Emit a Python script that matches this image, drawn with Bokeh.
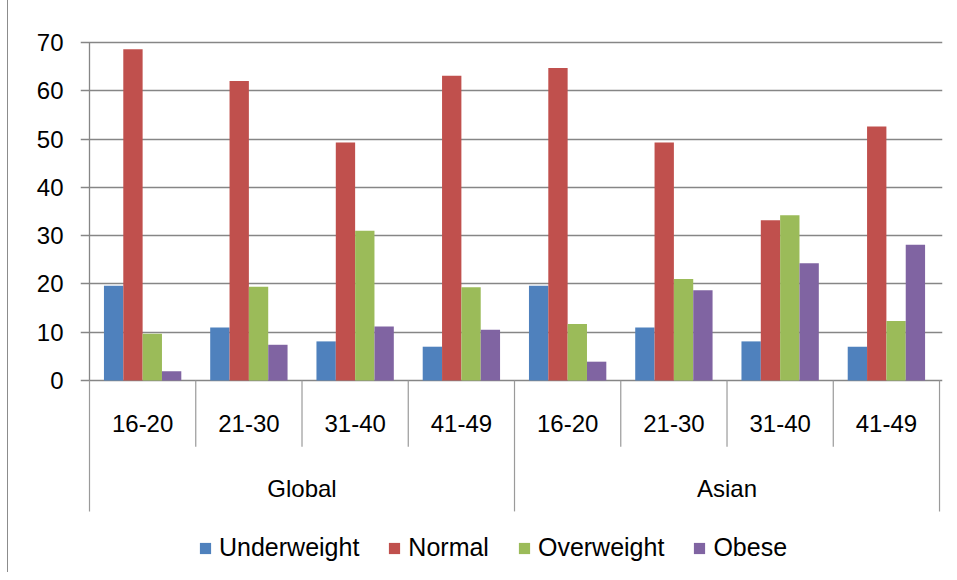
from bokeh.plotting import figure
from bokeh.models import ColumnDataSource, FixedTicker, Legend, LegendItem, Range1d
from bokeh.core.properties import value
from bokeh.embed import file_html
from bokeh.resources import INLINE

# ---- data ----
groups = ["Global", "Asian"]
ages = ["16-20", "21-30", "31-40", "41-49"]
series = ["Underweight", "Normal", "Overweight", "Obese"]
colors = ["#4F81BD", "#C0504D", "#9BBB59", "#8064A2"]
underweight = [19.6, 11.0, 8.1, 7.0, 19.6, 11.0, 8.1, 7.0]
normal = [68.6, 62.0, 49.3, 63.1, 64.7, 49.3, 33.2, 52.6]
overweight = [9.7, 19.4, 31.0, 19.3, 11.7, 21.0, 34.2, 12.3]
obese = [1.9, 7.4, 11.2, 10.5, 3.9, 18.7, 24.3, 28.1]
yticks = [0, 10, 20, 30, 40, 50, 60, 70]

values = [underweight, normal, overweight, obese]
cats = [(g, a) for g in groups for a in ages]
n = len(cats)
FONT = value("Liberation Sans")
FS = value("24px")

p = figure(width=939, height=572, output_backend="svg", toolbar_location=None,
           x_range=Range1d(-0.0847, n + 0.028), y_range=Range1d(-39.75, 70.4),
           min_border_left=72, min_border_right=5, min_border_top=40, min_border_bottom=0,
           styles={"margin-left": "7px", "border-left": "1px solid #8c8c8c"})
p.outline_line_color = None
p.xaxis.visible = False
p.xgrid.visible = False
p.ygrid.ticker = FixedTicker(ticks=yticks)
p.ygrid.grid_line_color = "#868686"
p.ygrid.grid_line_width = 1.3
p.yaxis.ticker = FixedTicker(ticks=yticks)
p.yaxis.axis_line_color = None
p.yaxis.major_tick_line_color = None
p.yaxis.minor_tick_line_color = None
p.yaxis.major_tick_out = 0
p.yaxis.major_label_standoff = 17
p.yaxis.major_label_text_font = "Liberation Sans"
p.yaxis.major_label_text_font_size = "24px"
p.yaxis.major_label_text_color = "black"

bw = 0.182
items = []
for k, (name, vals, col) in enumerate(zip(series, values, colors)):
    xs = [i + 0.5 + (k - 1.5) * bw for i in range(n)]
    src = ColumnDataSource(dict(x=xs, top=vals))
    r = p.vbar(x="x", top="top", bottom=0, width=bw, source=src,
               fill_color=col, line_color=None)
    items.append(LegendItem(label=name, renderers=[r]))

# axis line and category dividers
p.segment(x0=[0], y0=[0], x1=[0], y1=[yticks[-1]], line_color="#868686", line_width=1.3)
inner = [i for i in range(1, n) if i % len(ages) != 0]
outer = [i for i in range(0, n + 1) if i % len(ages) == 0]
p.segment(x0=inner, y0=[0] * len(inner), x1=inner, y1=[-13.7] * len(inner),
          line_color="#9a9a9a", line_width=1.2)
p.segment(x0=outer, y0=[0] * len(outer), x1=outer, y1=[-27.1] * len(outer),
          line_color="#9a9a9a", line_width=1.2)

# category labels
p.text(x=[i + 0.5 for i in range(n)], y=[-8.9] * n, text=[c[1] for c in cats],
       text_font=FONT, text_font_size=FS, text_color="black",
       text_align="center", text_baseline="middle")
gx = [len(ages) * (j + 0.5) for j in range(len(groups))]
p.text(x=gx, y=[-22.4] * len(groups), text=groups,
       text_font=FONT, text_font_size=FS, text_color="black",
       text_align="center", text_baseline="middle")

legend = Legend(items=items, orientation="horizontal", location=(118, 10),
                glyph_width=14, glyph_height=14, label_standoff=7, spacing=28,
                padding=0, margin=0, border_line_color=None, background_fill_alpha=0,
                label_text_font="Liberation Sans", label_text_font_size="25px",
                label_text_color="black")
p.add_layout(legend, "center")

open("out.html", "w").write(file_html(p, INLINE))
